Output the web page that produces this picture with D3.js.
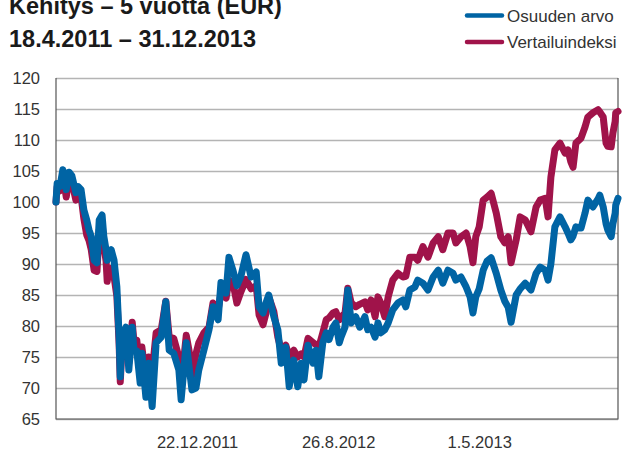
<!DOCTYPE html>
<html>
<head>
<meta charset="utf-8">
<script src="https://cdn.jsdelivr.net/npm/d3@7/dist/d3.min.js"></script>
<style>
  html, body { margin: 0; padding: 0; background: #fff; }
  svg { display: block; font-family: "Liberation Sans", Arial, Helvetica, sans-serif; }
</style>
</head>
<body>
<svg id="chart" width="624" height="451"></svg>
<script>
// Observation dates
const dates = [
  "2011-04-18","2011-04-20","2011-04-25","2011-04-30","2011-05-06","2011-05-11","2011-05-16","2011-05-23","2011-05-27","2011-06-01",
  "2011-06-06","2011-06-11","2011-06-15","2011-06-19","2011-06-24","2011-06-29","2011-07-03","2011-07-08","2011-07-11","2011-07-15",
  "2011-07-17","2011-07-20","2011-07-24","2011-07-29","2011-08-03","2011-08-07","2011-08-09","2011-08-12","2011-08-19","2011-08-24",
  "2011-08-30","2011-09-02","2011-09-07","2011-09-13","2011-09-16","2011-09-23","2011-09-28","2011-10-04","2011-10-11","2011-10-20",
  "2011-10-28","2011-11-03","2011-11-11","2011-11-20","2011-11-24","2011-12-03","2011-12-08","2011-12-13","2011-12-20","2011-12-25",
  "2012-01-03","2012-01-12","2012-01-19","2012-01-28","2012-02-02","2012-02-11","2012-02-16","2012-02-23","2012-03-01","2012-03-08",
  "2012-03-17","2012-03-26","2012-04-04","2012-04-09","2012-04-16","2012-04-21","2012-04-26","2012-05-05","2012-05-12","2012-05-18",
  "2012-05-26","2012-06-01","2012-06-09","2012-06-16","2012-06-22","2012-06-27","2012-07-04","2012-07-13","2012-07-18","2012-07-23",
  "2012-07-30","2012-08-05","2012-08-10","2012-08-17","2012-08-22","2012-08-28","2012-08-31","2012-09-07","2012-09-12","2012-09-18",
  "2012-09-26","2012-10-03","2012-10-12","2012-10-17","2012-10-23","2012-10-30","2012-11-04","2012-11-09","2012-11-16","2012-11-22",
  "2012-11-30","2012-12-09","2012-12-18","2012-12-23","2012-12-30","2013-01-08","2013-01-13","2013-01-22","2013-01-31","2013-02-09",
  "2013-02-18","2013-02-26","2013-03-07","2013-03-16","2013-03-21","2013-03-30","2013-04-08","2013-04-15","2013-04-20","2013-04-25",
  "2013-05-01","2013-05-08","2013-05-15","2013-05-22","2013-05-31","2013-06-08","2013-06-15","2013-06-21","2013-06-26","2013-07-05",
  "2013-07-12","2013-07-21","2013-07-31","2013-08-09","2013-08-16","2013-08-25","2013-08-30","2013-09-04","2013-09-11","2013-09-20",
  "2013-09-29","2013-10-04","2013-10-09","2013-10-13","2013-10-18","2013-10-27","2013-11-03","2013-11-08","2013-11-17","2013-11-26",
  "2013-11-29","2013-12-05","2013-12-10","2013-12-13","2013-12-19","2013-12-22","2013-12-26","2013-12-27","2013-12-31"
];

// Osuuden arvo (fund unit value, indexed to 100)
const osuudenArvo = [
  100.0,103.0,102.5,105.2,102.0,104.8,104.2,101.5,102.5,102.0,
  98.7,97.1,95.5,94.4,90.6,90.2,97.1,97.9,94.5,92.3,
  90.6,91.8,92.3,90.6,86.3,78.2,71.8,78.2,79.8,72.9,
  79.8,76.1,76.0,70.8,75.6,68.5,74.0,67.0,77.3,78.2,
  83.9,76.1,75.6,72.9,68.1,77.3,73.4,69.7,70.0,72.9,
  76.1,79.4,83.1,81.0,87.0,85.3,91.1,89.0,86.5,88.0,
  91.5,87.9,88.7,83.1,82.1,83.7,85.0,81.5,79.4,74.0,
  76.6,70.2,74.5,70.2,74.0,71.3,76.9,74.0,76.1,71.8,
  77.3,78.9,77.8,79.8,80.5,77.3,78.2,79.8,85.8,80.5,
  81.5,79.8,81.5,79.4,79.8,78.2,80.5,78.9,79.4,80.5,
  82.6,83.7,84.2,83.1,85.8,86.3,87.4,86.9,85.8,87.9,
  89.0,86.9,89.0,88.5,87.4,87.9,86.3,84.7,82.1,84.7,
  86.0,89.0,90.5,91.0,88.5,85.8,84.0,83.0,80.6,85.0,
  86.0,86.9,85.8,88.5,89.5,89.0,87.4,90.0,96.0,97.6,
  96.0,95.0,93.9,94.5,96.0,95.8,98.2,100.3,99.2,100.5,
  101.1,99.2,96.5,95.5,94.4,96.5,98.2,99.5,100.6
];

// Vertailuindeksi (benchmark index, indexed to 100)
const vertailuindeksi = [
  100.0,102.4,101.8,104.5,100.8,104.0,103.2,100.3,101.5,101.0,
  97.3,94.7,93.8,92.3,89.0,88.8,95.5,96.8,93.0,90.5,
  87.2,89.0,89.3,88.0,84.8,77.0,71.0,76.5,78.5,74.0,
  80.6,77.5,77.7,73.0,76.6,71.5,75.0,72.5,78.9,79.4,
  84.0,78.2,78.0,75.0,70.5,78.5,76.0,72.0,75.5,77.3,
  78.9,79.8,83.7,82.6,85.3,84.5,87.4,87.0,83.7,85.5,
  87.5,86.0,86.5,81.8,80.2,82.0,84.7,82.3,78.2,76.1,
  76.9,75.0,76.1,75.0,75.5,75.0,78.0,77.3,77.0,76.6,
  78.9,81.0,81.3,82.1,82.3,81.0,81.5,82.0,86.1,83.7,
  83.1,83.5,83.9,82.6,84.2,81.5,84.7,83.7,81.5,84.7,
  87.4,88.5,87.9,88.0,91.1,91.1,90.6,92.8,91.1,93.4,
  94.4,92.3,95.0,95.0,93.4,94.4,95.0,92.8,90.2,94.4,
  96.0,100.3,100.8,101.4,98.2,94.4,93.4,94.4,90.2,93.9,
  97.6,97.1,95.2,99.2,100.3,100.6,97.6,104.0,108.4,109.5,
  107.9,108.4,106.5,105.6,109.5,110.3,112.1,113.7,114.4,114.9,
  114.5,113.7,109.5,109.0,108.9,111.1,113.0,114.4,114.6
];

const yTicks = [65, 70, 75, 80, 85, 90, 95, 100, 105, 110, 115, 120];
const xTickDates = ["2011-12-22", "2012-08-26", "2013-05-01"];
const xTickLabels = ["22.12.2011", "26.8.2012", "1.5.2013"];
const seriesNames = ["Osuuden arvo", "Vertailuindeksi"];
const titleLines = ["Kehitys \u2013 5 vuotta (EUR)", "18.4.2011 \u2013 31.12.2013"];
const dateRange = ["2011-04-18", "2013-12-31"];

const BLUE = "#0064a4";
const RED = "#a0134a";

const parse = d3.timeParse("%Y-%m-%d");
const svg = d3.select("#chart");

const plot = { left: 56, right: 618, top: 78, bottom: 419 };

const x = d3.scaleTime()
  .domain(dateRange.map(parse))
  .range([plot.left, plot.right]);

const y = d3.scaleLinear()
  .domain([65, 120])
  .range([plot.bottom, plot.top]);

// Horizontal grid with value labels
const yAxis = d3.axisLeft(y)
  .tickValues(yTicks)
  .tickSize(-(plot.right - plot.left))
  .tickFormat(d3.format("d"));

const gy = svg.append("g")
  .attr("transform", `translate(${plot.left},0)`)
  .call(yAxis);
gy.select(".domain").remove();
gy.selectAll(".tick line")
  .attr("stroke", "#b4b4b4")
  .attr("stroke-width", 1.5)
  .attr("x1", 0);
gy.selectAll(".tick text")
  .attr("fill", "#333")
  .attr("font-size", 16.5)
  .attr("x", -16)
  .attr("dy", "0.35em");

// Frame on left, bottom and right
svg.append("path")
  .attr("d", `M${plot.left},${plot.top}V${plot.bottom}H${plot.right}V${plot.top}`)
  .attr("fill", "none")
  .attr("stroke", "#555")
  .attr("stroke-width", 1.2);

// Date labels under the plot
const xAxis = d3.axisBottom(x)
  .tickValues(xTickDates.map(parse))
  .tickSize(0)
  .tickPadding(0)
  .tickFormat((d, i) => xTickLabels[i]);

const gx = svg.append("g")
  .attr("transform", `translate(0,${plot.bottom})`)
  .call(xAxis);
gx.select(".domain").remove();
gx.selectAll(".tick text")
  .attr("fill", "#333")
  .attr("font-size", 16.5)
  .attr("y", 29)
  .attr("dy", 0);

// Series lines: benchmark underneath, fund on top
const data = dates.map((d, i) => ({
  date: parse(d),
  fund: osuudenArvo[i],
  bench: vertailuindeksi[i]
}));

const lineFor = key => d3.line()
  .x(d => x(d.date))
  .y(d => y(d[key]));

svg.append("path")
  .datum(data)
  .attr("d", lineFor("bench"))
  .attr("fill", "none")
  .attr("stroke", RED)
  .attr("stroke-width", 7)
  .attr("stroke-linejoin", "round")
  .attr("stroke-linecap", "round");

svg.append("path")
  .datum(data)
  .attr("d", lineFor("fund"))
  .attr("fill", "none")
  .attr("stroke", BLUE)
  .attr("stroke-width", 7)
  .attr("stroke-linejoin", "round")
  .attr("stroke-linecap", "round");

// Title
svg.append("g")
  .selectAll("text")
  .data(titleLines)
  .join("text")
  .attr("x", 9)
  .attr("y", (d, i) => 14 + i * 33)
  .attr("font-size", 23.5)
  .attr("font-weight", "bold")
  .attr("fill", "#1a1a1a")
  .text(d => d);

// Legend
const legend = svg.append("g")
  .selectAll("g")
  .data(seriesNames)
  .join("g")
  .attr("transform", (d, i) => `translate(0,${15.5 + i * 26.5})`);

legend.append("line")
  .attr("x1", 467).attr("x2", 502)
  .attr("y1", 0).attr("y2", 0)
  .attr("stroke", (d, i) => i === 0 ? BLUE : RED)
  .attr("stroke-width", 4.5)
  .attr("stroke-linecap", "round");

legend.append("text")
  .attr("x", 507)
  .attr("y", 6)
  .attr("font-size", 17)
  .attr("fill", "#333")
  .text(d => d);
</script>
</body>
</html>
